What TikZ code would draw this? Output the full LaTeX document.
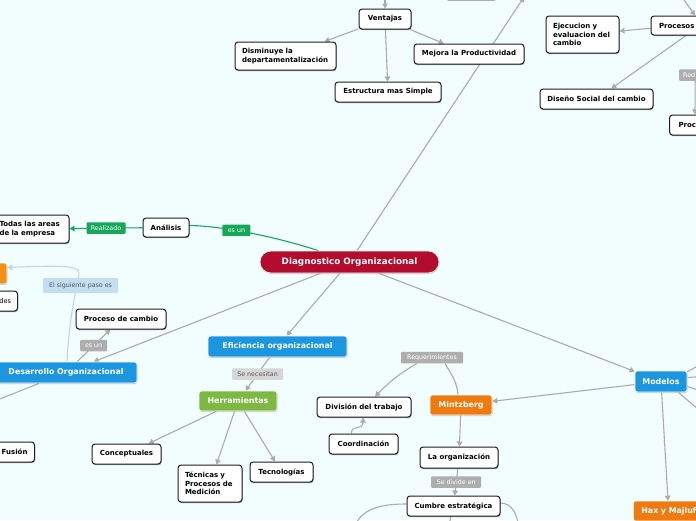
\documentclass[tikz,border=0pt]{standalone}
\usepackage{fontspec}
\setmainfont{DejaVu Sans}
\usetikzlibrary{arrows.meta,shadows}
\pgfdeclarelayer{bglayer}
\pgfdeclarelayer{edgelayer}
\pgfsetlayers{bglayer,edgelayer,main}

\definecolor{bgc}{HTML}{F1FEFD}
\definecolor{boxborder}{HTML}{1E1E1E}
\definecolor{diagred}{HTML}{B30C2C}
\definecolor{blue1}{HTML}{1D96E0}
\definecolor{green1}{HTML}{7DB842}
\definecolor{orange1}{HTML}{EF7B10}
\definecolor{orange2}{HTML}{F39019}
\definecolor{conngray}{HTML}{ABABAB}
\definecolor{greenl}{HTML}{16A85A}
\definecolor{labdark}{HTML}{AEAEAE}
\definecolor{lablight}{HTML}{D6D6D6}
\definecolor{labtext}{HTML}{5C5C5C}
\definecolor{lbfill}{HTML}{C4DDF1}
\definecolor{lbtext}{HTML}{4C5866}
\definecolor{lbline}{HTML}{BCD7EE}

\newcommand\boxfont{\fontsize{7}{8.4}\selectfont\bfseries}
\newcommand\topicfont{\fontsize{7.9}{9}\selectfont\bfseries}
\newcommand\labfont{\fontsize{6.3}{7}\selectfont}

\tikzset{
  mbox/.style={draw=boxborder, fill=white, line width=1pt, rounded corners=3pt,
    inner sep=0pt, font=\boxfont, text=black,
    drop shadow={shadow xshift=0.5pt, shadow yshift=-1.2pt, fill=black, opacity=0.35}},
  topic/.style={fill=#1, draw=white, line width=0.6pt, rounded corners=2.5pt,
    inner sep=0pt, font=\topicfont, text=white,
    drop shadow={shadow xshift=0.5pt, shadow yshift=-1pt, fill=black, opacity=0.2}},
  lab/.style={inner sep=0pt, font=\labfont, rounded corners=1pt, minimum height=11.5pt},
  glab/.style={lab, fill=greenl, text=white},
  dlab/.style={lab, fill=labdark, text=white},
  llab/.style={lab, fill=lablight, text=labtext},
  blab/.style={lab, fill=lbfill, text=lbtext},
  plain/.style={draw=conngray, line width=1.1pt},
  conn/.style={plain, -{Triangle[length=5pt,width=5.5pt]}},
  gconn/.style={draw=greenl, line width=1.1pt},
  bconn/.style={draw=lbline, line width=1.1pt, -{Triangle[length=5pt,width=5.5pt]}},
}

\begin{document}
\begin{tikzpicture}[x=1pt,y=-1pt]
\useasboundingbox (0,0) rectangle (696,520);
\begin{pgfonlayer}{bglayer}
\fill[bgc] (0,0) rectangle (696,520);
\end{pgfonlayer}
\clip (0,0) rectangle (696,520);

% free ends
\coordinate (vtop) at (385,-12);
\coordinate (dtop) at (524,-3);
\coordinate (ptop) at (682,-3);
\coordinate (dleft) at (-25,409);
\coordinate (cl) at (354,528);
\coordinate (cr) at (519,528);
\coordinate (cb) at (449,528);
\coordinate (m1) at (712,358);
\coordinate (m2) at (712,376);
\coordinate (m3) at (712,395);
\coordinate (m4) at (712,421);

% nodes
\node[mbox, minimum width=52pt, minimum height=20pt] (topbox) at (471,-10.5) {};
\node[mbox, minimum width=52pt, minimum height=20pt] (ventajas) at (385,19) {Ventajas};
\node[mbox, minimum width=101pt, minimum height=28pt, text width=87pt, align=left] (dism) at (285.5,56) {Disminuye la\\departamentalización};
\node[mbox, minimum width=110pt, minimum height=20pt] (mejora) at (469,54) {Mejora la Productividad};
\node[mbox, minimum width=106pt, minimum height=20pt] (estr) at (388,92) {Estructura mas Simple};
\node[mbox, minimum width=59pt, minimum height=19pt, text width=43pt, align=left] (procesos) at (680.5,25.5) {Procesos};
\node[mbox, minimum width=73pt, minimum height=37pt, text width=59pt, align=left] (ejec) at (582.5,34.5) {Ejecucion y\\evaluacion del\\cambio};
\node[mbox, minimum width=113pt, minimum height=20pt] (diseno) at (596.5,99) {Diseño Social del cambio};
\node[dlab, anchor=west, minimum width=40pt, text width=32pt, align=left] (red) at (679,75) {Red};
\node[mbox, anchor=west, minimum width=60pt, minimum height=20pt, text width=42pt, align=left] (proc2) at (669,125) {Proc};

\node[mbox, minimum width=46pt, minimum height=19pt] (analisis) at (166,227.5) {Análisis};
\node[mbox, minimum width=77pt, minimum height=28pt, text width=62pt, align=left] (todas) at (30.5,229) {Todas las areas\\de la empresa};
\node[topic=diagred, minimum width=179pt, minimum height=22pt, rounded corners=11pt, font=\fontsize{8.8}{10}\selectfont\bfseries] (diag) at (349.5,262) {Diagnostico Organizacional};
\node[topic=orange2, minimum width=37pt, minimum height=21pt] (orng) at (-11.5,273.5) {};
\node[mbox, anchor=east, minimum width=58pt, minimum height=20pt, text width=45pt, align=right, font=\fontsize{6.6}{8}\selectfont] (des) at (18,301) {des};
\node[mbox, minimum width=90pt, minimum height=20pt] (pcambio) at (121,319) {Proceso de cambio};
\node[topic=blue1, minimum width=142pt, minimum height=21pt] (desarrollo) at (66,372.5) {Desarrollo Organizacional};
\node[mbox, anchor=east, minimum width=60pt, minimum height=20pt, text width=46pt, align=right] (fusion) at (35,452) {Fusión};
\node[topic=blue1, minimum width=139pt, minimum height=21pt] (efic) at (277.5,346.5) {Eficiencia organizacional};
\node[topic=green1, minimum width=78pt, minimum height=20pt] (herr) at (238,401) {Herramientas};
\node[mbox, minimum width=69pt, minimum height=20pt] (concep) at (126.5,454) {Conceptuales};
\node[mbox, minimum width=64pt, minimum height=37pt, text width=50pt, align=left] (tecn) at (210,483.5) {Técnicas y\\Procesos de\\Medición};
\node[mbox, minimum width=63pt, minimum height=20pt] (tecno) at (281.5,472) {Tecnologías};
\node[dlab, minimum width=62pt] (req) at (432,357.5) {Requerimientos};
\node[mbox, minimum width=94pt, minimum height=20pt] (div) at (364,407) {División del trabajo};
\node[mbox, minimum width=69pt, minimum height=20pt] (coord) at (363.5,444) {Coordinación};
\node[topic=orange1, minimum width=62pt, minimum height=20pt] (mintz) at (461,405) {Mintzberg};
\node[mbox, minimum width=78pt, minimum height=21pt] (laorg) at (459,457.5) {La organización};
\node[mbox, minimum width=93pt, minimum height=20pt] (cumbre) at (453.5,506) {Cumbre estratégica};
\node[topic=blue1, minimum width=52pt, minimum height=21pt] (modelos) at (661,381.5) {Modelos};
\node[topic=orange1, anchor=west, minimum width=80pt, minimum height=20pt, text width=64pt, align=left] (hax) at (633,511) {Hax y Majluf};
\node[blab, minimum width=75pt, minimum height=15pt] (sig) at (80.5,285.5) {El siguiente paso es};

% connectors
\begin{pgfonlayer}{edgelayer}
\draw[conn] (vtop) -- (ventajas);
\draw[conn] (ventajas) -- (dism);
\draw[conn] (ventajas) -- (mejora);
\draw[conn] (ventajas) -- (estr);
\draw[conn] (diag) -- (dtop);
\draw[conn] (ptop) -- ([xshift=14.5pt]procesos.north);
\draw[conn] (procesos) -- (ejec);
\draw[conn] ([xshift=5.5pt]procesos.south) -- (diseno);
\draw[plain] (procesos.south -| red.north) -- (red.north);
\draw[conn] ([xshift=-4pt]red.south) -- ([xshift=26pt]proc2.north west);

\draw[gconn] ([xshift=-31pt]diag.north) .. controls (280,238) and (225,226) .. ([yshift=2pt]analisis.east)
  node[pos=0.62, glab, minimum width=28pt] {es un};
\draw[gconn, -{Triangle[length=5pt,width=5.5pt]}] (analisis) -- (todas)
  node[midway, glab, minimum width=39pt] {Realizado};

\draw[bconn] ([xshift=1pt]desarrollo.north) .. controls (69,320) and (76,290) .. (79,274)
  .. controls (81,264) and (50,266) .. ([yshift=6pt]orng.east);

\draw[conn] (diag) -- (desarrollo);
\draw[conn] (desarrollo) -- (pcambio) node[midway, dlab, minimum width=27pt] {es un};
\draw[conn] (desarrollo) -- (dleft);
\draw[conn] (diag) -- (efic);
\draw[conn] (efic) -- (herr) node[midway, llab, minimum width=51pt] {Se necesitan};
\draw[conn] (herr) -- (concep);
\draw[conn] (herr) -- (tecn);
\draw[conn] (herr) -- (tecno);
\draw[conn] (diag) -- (modelos);
\draw[conn] (modelos) -- (mintz);
\draw[plain] ([xshift=-3pt]mintz.north) to[out=95,in=-60] ([xshift=13pt]req.south);
\draw[conn] ([xshift=-15pt]req.south) to[out=-150,in=45] ([xshift=11pt]div.north);
\draw[conn] ([xshift=-12pt]coord.north) .. controls (351,424) and (363,431) .. ([xshift=-1pt]div.south);
\draw[conn] (mintz) -- (laorg);
\draw[conn] (laorg) -- (cumbre) node[midway, dlab, minimum width=50pt] {Se divide en};
\draw[conn] ([yshift=2pt]cumbre.west) to[out=180,in=65] (cl);
\draw[conn] ([yshift=3pt]cumbre.east) to[out=0,in=100] (cr);
\draw[conn] ([xshift=-3pt]cumbre.south) -- (cb);
\draw[conn] (modelos) -- ([xshift=35pt]hax.north west);
\draw[conn] ([yshift=-1pt]modelos.north east) -- (m1);
\draw[conn] ([yshift=4pt]modelos.east) -- (m2);
\draw[conn] ([yshift=-5pt]modelos.east) -- (m3);
\draw[conn] ([xshift=-9pt]modelos.south east) -- (m4);
\end{pgfonlayer}
\end{tikzpicture}
\end{document}
